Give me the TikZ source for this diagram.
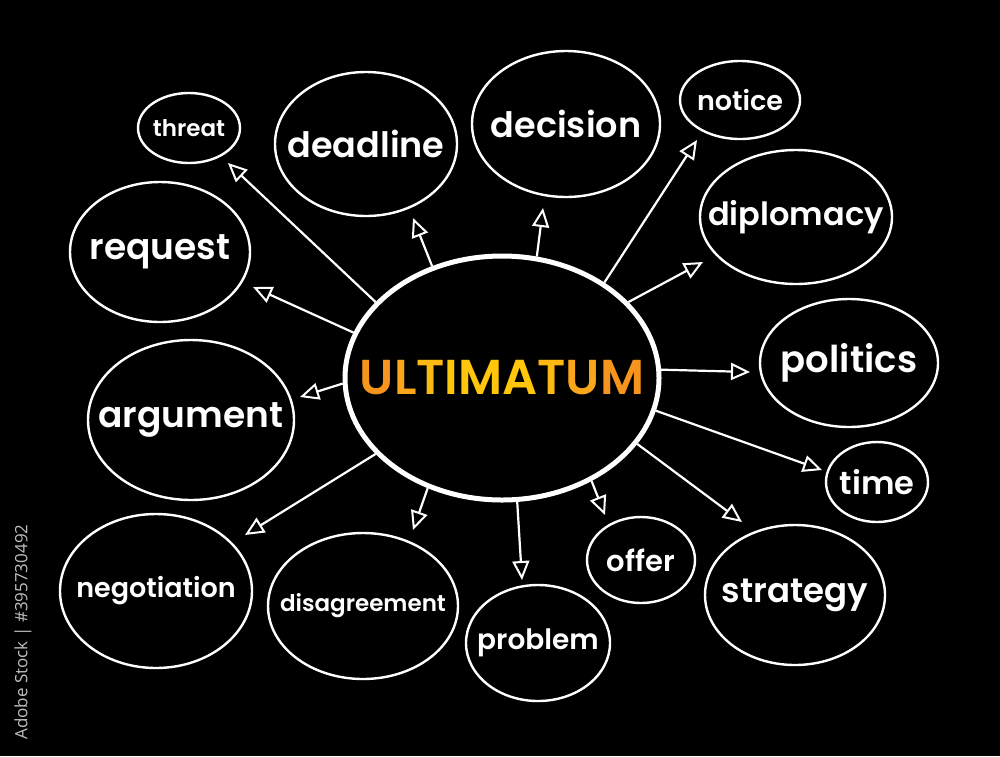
\documentclass[tikz,border=0pt]{standalone}
\usepackage{fontspec}
\setmainfont{Poppins}[BoldFont={Poppins SemiBold}]
\newfontfamily\capfont{Open Sans}
\usetikzlibrary{shapes.geometric,arrows.meta}
\definecolor{uo1}{HTML}{F7941D}
\definecolor{uo2}{HTML}{FAA61A}
\definecolor{uo3}{HTML}{FDB913}
\definecolor{uo4}{HTML}{FFC60B}
\newcommand{\fs}[1]{\fontsize{#1}{#1}\selectfont}
\begin{document}
\begin{tikzpicture}[x=1pt,y=-1pt,
  bub/.style={draw=white, line width=2.4pt, ellipse, inner sep=0pt},
  txt/.style={text=white, font=\bfseries\fs{#1}, inner sep=0pt},
  hub/.style={draw=white, line width=5pt, ellipse, inner sep=0pt},
  link/.style={draw=white, line width=2.2pt, -{Triangle[open,length=19pt,width=17pt,line width=2pt]}}]
\fill[black] (0,0) rectangle (1000,756);
\useasboundingbox (0,0) rectangle (1000,756);

\node[hub, minimum width=314pt, minimum height=244pt,
  label={[inner sep=0pt, font=\bfseries\fs{49}]center:\textcolor{uo1}{U}\textcolor{uo2}{L}\textcolor{uo3}{T}\textcolor{uo4}{I}\textcolor{uo4}{M}\textcolor{uo4}{A}\textcolor{uo3}{T}\textcolor{uo2}{U}\textcolor{uo1}{M}}] (c) at (502,378) {};

\node[bub, minimum width=102pt, minimum height=70pt, label={[txt=23]center:threat}] (threat) at (189,128) {};
\node[bub, minimum width=182pt, minimum height=144pt, label={[txt=35]center:deadline}] (deadline) at (366,144) {};
\node[bub, minimum width=188pt, minimum height=146pt, label={[txt=35]center:decision}] (decision) at (566,124) {};
\node[bub, minimum width=120pt, minimum height=78pt, label={[txt=27]center:notice}] (notice) at (740,100) {};
\node[bub, minimum width=192pt, minimum height=134pt, label={[txt=32]center:diplomacy}] (diplomacy) at (796,217) {};
\node[bub, minimum width=178pt, minimum height=128pt, label={[txt=37]center:politics}] (politics) at (849,363) {};
\node[bub, minimum width=102pt, minimum height=80pt, label={[txt=32]center:time}] (time) at (877,482) {};
\node[bub, minimum width=180pt, minimum height=140pt, label={[txt=34]center:strategy}] (strategy) at (795,595) {};
\node[bub, minimum width=108pt, minimum height=86pt, label={[txt=29]center:offer}] (offer) at (641,560) {};
\node[bub, minimum width=144pt, minimum height=116pt, label={[txt=28]center:problem}] (problem) at (538,643) {};
\node[bub, minimum width=190pt, minimum height=146pt, label={[txt=23]center:disagreement}] (disagreement) at (363,606) {};
\node[bub, minimum width=192pt, minimum height=154pt, label={[txt=27]center:negotiation}] (negotiation) at (156,591) {};
\node[bub, minimum width=206pt, minimum height=160pt, label={[txt=36]center:argument}] (argument) at (191,420) {};
\node[bub, minimum width=180pt, minimum height=140pt, label={[txt=36]center:request}] (request) at (160,252) {};

\coordinate (a-threat) at (228,163);
\coordinate (a-request) at (253,287);
\coordinate (a-argument) at (300,397);
\coordinate (a-negotiation) at (245,535);
\coordinate (a-disagreement) at (413,530);
\coordinate (a-problem) at (522,580);
\coordinate (a-offer) at (605,515);
\coordinate (a-strategy) at (742,522);
\coordinate (a-time) at (822,470);
\coordinate (a-politics) at (750,372);
\coordinate (a-diplomacy) at (703,262);
\coordinate (a-notice) at (697,140);
\coordinate (a-decision) at (543,208);
\coordinate (a-deadline) at (413,218);

\foreach \n/\a in {threat/149,request/163,argument/182,negotiation/211,disagreement/236,problem/277,offer/311,strategy/334,time/348,politics/3,diplomacy/31,notice/43,decision/74,deadline/122}
  \draw[link] (c.\a) -- (a-\n);

\node[rotate=90, text=white!75!black, font=\capfont\fs{17}] (cap) at (23,632) {Adobe Stock | \#395730492};
\end{tikzpicture}
\end{document}
